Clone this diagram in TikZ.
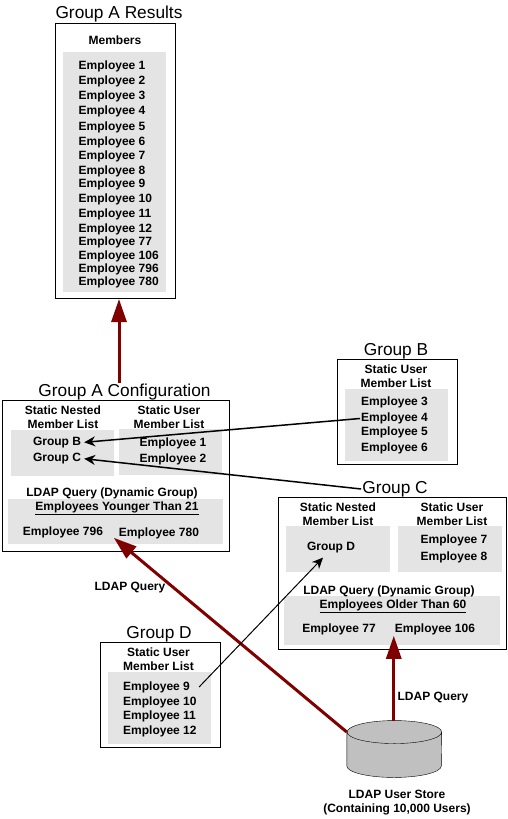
\documentclass[tikz,border=0pt]{standalone}
\usepackage{fontspec}
\setmainfont{Liberation Sans}
\usetikzlibrary{arrows.meta}
\definecolor{panelgray}{HTML}{E4E4E4}
\definecolor{storegray}{HTML}{C0C0C0}
\definecolor{querycolor}{HTML}{800000}

\begin{document}
\begin{tikzpicture}[
  x=1pt,
  y=-1pt,
  groupbox/.style={draw=black,line width=1pt,fill=white,inner sep=0pt},
  listpanel/.style={fill=panelgray,inner sep=0pt},
  grouptitle/.style={font=\fontsize{17.3}{20}\selectfont,inner sep=1pt,yshift=-2pt},
  item/.style={font=\bfseries\fontsize{12}{14}\selectfont,align=center,inner sep=1pt,yshift=-1pt},
  rowitem/.style={item,anchor=west},
  queryarrow/.style={-{Triangle[length=23pt,width=15pt]},draw=querycolor,line width=3pt},
  linkarrow/.style={-{Stealth[length=11pt,width=10pt]},line width=1.5pt,shorten >=2pt},
  thinlink/.style={-{Stealth[length=11pt,width=10pt]},line width=1pt}
]
  \useasboundingbox (0,0) rectangle (507,819);

  % results
  \node[grouptitle] (titleR) at (119,12) {Group A Results};
  \node[groupbox,minimum width=120pt,minimum height=275pt] (resultsbox) at (115,160.5) {};
  \node[listpanel,minimum width=103pt,minimum height=240pt] (resultspanel) at (114.5,172) {};
  \node[item] (membersR) at (115,39) {Members};
  \foreach \n/\y in {1/65,2/80,3/95,4/110,5/126,6/141,7/155,8/170,9/183,10/198,11/213,12/228,77/241,106/255,796/268,780/281}
    \node[rowitem] (res\n) at (77.5,\y) {Employee \n};

  % group a
  \node[grouptitle] (titleA) at (124.5,390) {Group A Configuration};
  \node[groupbox,minimum width=227pt,minimum height=151pt] (boxA) at (115.5,475.5) {};
  \node[listpanel,minimum width=103pt,minimum height=46pt] (nestedA) at (62.5,452.5) {};
  \node[listpanel,minimum width=103pt,minimum height=46pt] (staticA) at (170.5,452) {};
  \node[listpanel,minimum width=215pt,minimum height=45pt] (queryA) at (115.5,521.5) {};
  \node[item] (nestA) at (63,416) {Static Nested\\Member List};
  \node[item] (userA) at (169,416) {Static User\\Member List};
  \node[item] (itemB) at (57,441.5) {Group B};
  \node[item] (itemC) at (57,457.5) {Group C};
  \node[item] (emp1) at (173,442) {Employee 1};
  \node[item] (emp2) at (173,458.5) {Employee 2};
  \node[item] (ldapA) at (112,492) {LDAP Query (Dynamic Group)};
  \node[item] (ruleA) at (117,507) {\underline{Employees Younger Than 21}};
  \node[item] (emp796) at (63,531) {Employee 796};
  \node[item] (emp780) at (159,532) {Employee 780};

  % group b
  \node[grouptitle] (titleB) at (396,349.5) {Group B};
  \node[groupbox,minimum width=120pt,minimum height=105pt] (boxB) at (397.5,412) {};
  \node[listpanel,minimum width=103pt,minimum height=72pt] (panelB) at (396.5,425) {};
  \node[item] (userB) at (396,375.5) {Static User\\Member List};
  \foreach \n/\y in {3/401,4/417.5,5/431.5,6/447}
    \node[rowitem] (emp\n) at (360,\y) {Employee \n};

  % group c
  \node[grouptitle] (titleC) at (395,487) {Group C};
  \node[groupbox,minimum width=228pt,minimum height=152pt] (boxC) at (392,573) {};
  \node[listpanel,minimum width=104pt,minimum height=46pt] (nestedC) at (338,549) {};
  \node[listpanel,minimum width=104pt,minimum height=46pt] (staticC) at (450,549) {};
  \node[listpanel,minimum width=216pt,minimum height=49pt] (queryC) at (392,620.5) {};
  \node[item] (nestC) at (338,513.5) {Static Nested\\Member List};
  \node[item] (userC) at (452,513.5) {Static User\\Member List};
  \node[item] (itemD) at (331,547) {Group D};
  \node[item] (emp7) at (454,539) {Employee 7};
  \node[item] (emp8) at (454,556) {Employee 8};
  \node[item] (ldapC) at (389,590) {LDAP Query (Dynamic Group)};
  \node[item] (ruleC) at (393,605) {\underline{Employees Older Than 60}};
  \node[item] (emp77) at (339,628) {Employee 77};
  \node[item] (emp106) at (435,628) {Employee 106};

  % group d
  \node[grouptitle] (titleD) at (159,632) {Group D};
  \node[groupbox,minimum width=120pt,minimum height=105pt] (boxD) at (160.5,694.5) {};
  \node[listpanel,minimum width=103pt,minimum height=72pt] (panelD) at (159.5,708) {};
  \node[item] (userD) at (158.5,658.5) {Static User\\Member List};
  \foreach \n/\y in {9/686,10/701,11/715,12/730}
    \node[rowitem] (emp\n) at (122,\y) {Employee \n};

  % store
  \node[minimum width=94.5pt,minimum height=56.5pt,inner sep=0pt] (store) at (394.25,749) {};
  \coordinate (rimleft) at ([yshift=-11.5pt]store.north west);
  \coordinate (rimright) at ([yshift=-11.5pt]store.north east);
  \coordinate (baseleft) at ([yshift=11.5pt]store.south west);
  \draw[fill=storegray] (rimleft) -- (baseleft)
    arc[start angle=180,end angle=360,x radius=47.25pt,y radius=11.5pt] -- (rimright)
    arc[start angle=0,end angle=360,x radius=47.25pt,y radius=11.5pt]
    arc[start angle=0,end angle=-180,x radius=47.25pt,y radius=11.5pt];
  \node[item] (storename) at (397,801.5) {LDAP User Store\\(Containing 10,000 Users)};
  \node[item] (labelA) at (130,587) {LDAP Query};
  \node[item] (labelC) at (433,697) {LDAP Query};

  \coordinate (resultsin) at (119,299);
  \draw[queryarrow] (titleA.north -| resultsin) -- (resultsin);
  \draw[queryarrow] (rimleft) -- ([shift={(-4,-2)}]emp780.south west);
  \draw[queryarrow] (store.north -| emp106.south west) -- (emp106.south west);
  \draw[linkarrow] (emp4.west) -- (itemB.east);
  \draw[linkarrow] (titleC.west) -- (itemC.east);
  \draw[thinlink] ([xshift=8pt]emp9.east) -- ([shift={(-8,3)}]itemD.south);
\end{tikzpicture}
\end{document}
